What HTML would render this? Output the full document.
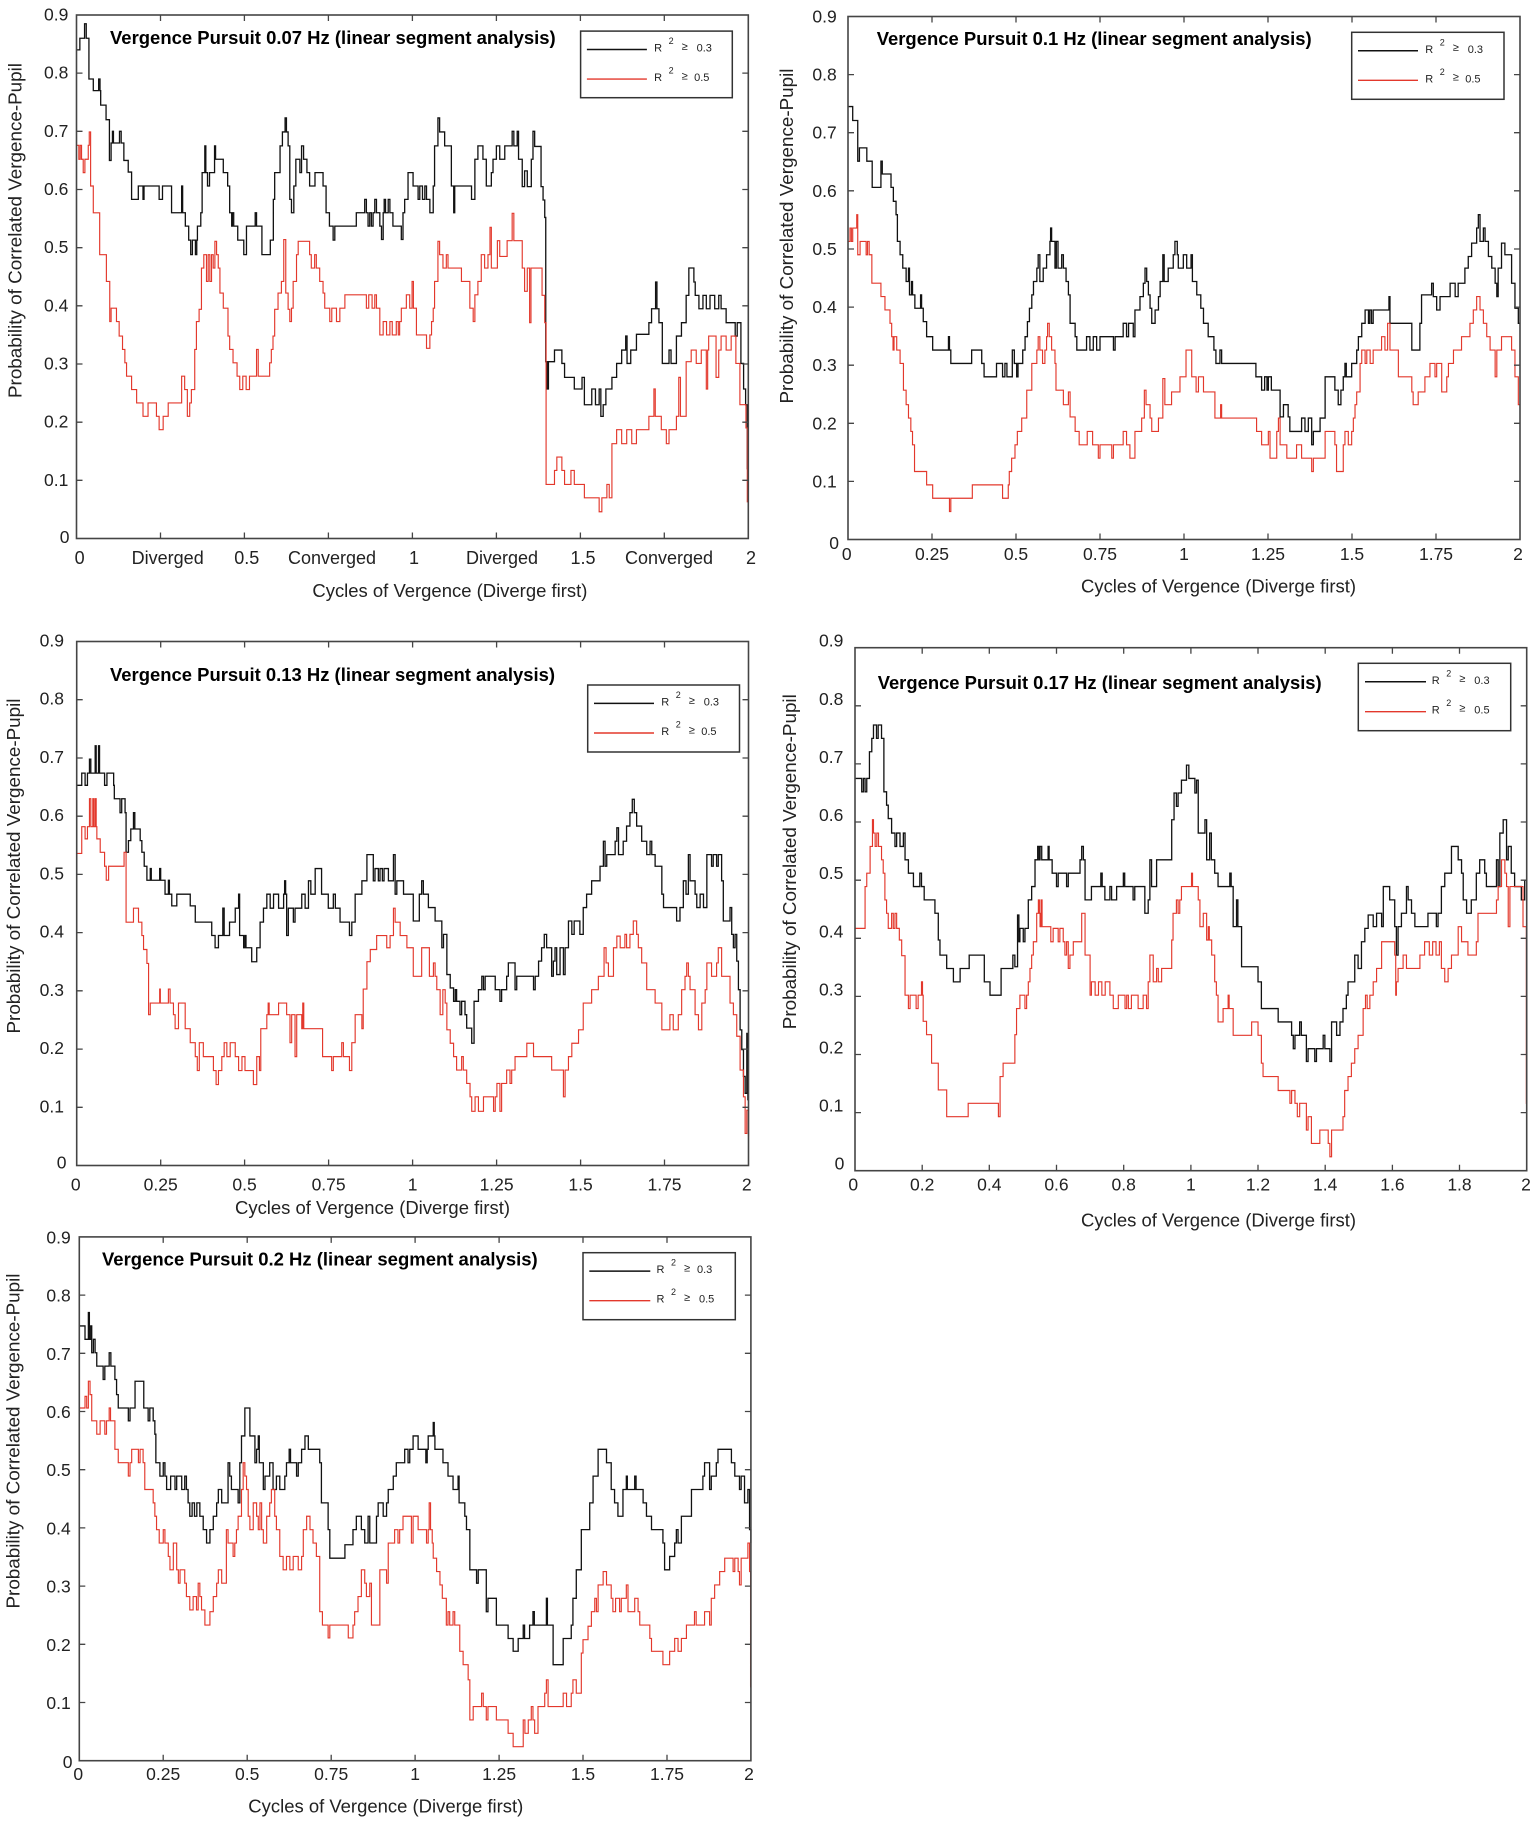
<!DOCTYPE html>
<html><head><meta charset="utf-8"><style>
html,body{margin:0;padding:0;background:#fff;}
svg{display:block;}
text{font-family:"Liberation Sans",Arial,sans-serif;}
.tl{font-size:17.5px;fill:#222;}
.te{text-anchor:end;}
.tm{text-anchor:middle;}
.tt{font-size:18.5px;font-weight:bold;fill:#000;}
.al{font-size:18.4px;fill:#222;}
.lg{font-size:11px;fill:#222;}
.ls{font-size:9px;fill:#222;}
.fr{fill:none;stroke:#454545;stroke-width:1.6;}
.tk{fill:none;stroke:#454545;stroke-width:1.3;}
.bk{fill:none;stroke:#111;stroke-width:1.3;vector-effect:non-scaling-stroke;stroke-linejoin:miter;}
.rd{fill:none;stroke:#e3382c;stroke-width:1.15;vector-effect:non-scaling-stroke;}
</style></head><body>
<svg width="1535" height="1822" viewBox="0 0 1535 1822" xmlns="http://www.w3.org/2000/svg">
<rect width="1535" height="1822" fill="#fff"/>

<!-- ============ PLOT 1 ============ -->
<g>
<g transform="translate(76.5,538.5) scale(3.359,-5.8167)">
<path class="bk" d="M0,84H1V86H2.4V88.5H2.9V86H3.7V79H5V77H6.6V79H7V77H7.2V74.5H8.8V72H9.8V65H10.3V68H10.7V70H11V68H12.8V70H13.3V68H14.1V65H15.4V63H16.4V58.3H18.4V60.6H19.8V58.3H20.1V60.6H24.6V58.3H25.6V60.6H28.3V56H31.3V60.6H31.6V56H32.4V53.7H33.4V51.3H34V48.8H34.5V51.3H35.4V48.8H35.8V51.3H36V53.7H37V56H37.4V62.9H38.2V67.5H38.5V62.9H39V60.6H39.6V62.9H41.1V67.5H41.4V65.2H43.7V62.9H45V60.6H45.6V56H46.2V53.7H46.4V56H46.8V53.7H48V51.3H49.8V48.8H50.6V53.7H53.2V56H53.6V53.7H55.2V48.8H57.7V51.3H58.6V58.3H59V62.9H60.6V67.5H61.3V69.9H62.1V72.3H62.5V69.9H63V67.5H63.5V58.3H64V56H64.7V60.6H65.3V65.2H66.5V62.9H67V67.5H67.6V65.2H68.6V62.9H69.4V60.6H71V62.9H73.4V60.6H74.3V56H75.3V53.7H76.4V51.3H76.9V53.7H83.3V56H85.8V58.3H86.3V56H86.8V53.7H87.3V56H87.8V53.7H88.3V56H88.8V58.3H89.3V56H90.3V53.7H90.8V51.4H91.3V56H91.6V58.3H92V56H92.8V58.3H93.3V56H94.2V53.7H96.7V51.4H97.2V56H97.7V58.3H98.7V62.9H100.2V60.6H101.7V58.3H102.2V60.6H103V58.3H103.7V60.6H104.2V58.3H105.2V56H106.2V60.6H106.6V67.5H107.6V72.3H108.1V69.9H109.6V67.5H111.6V60.6H112.3V56H112.6V60.6H117.6V58.3H118.6V65.2H119.5V67.5H121V65.2H122V60.6H123.5V62.9H124V65.2H125V67.5H126V65.2H127.5V67.5H129.7V70H130.2V67.5H131.2V70H131.6V65.2H132.7V60.5H133.4V63.2H134.2V60.5H135.4V65.2H135.9V70H136.4V67.4H138.3V60.5H138.9V58.2H139.4V55.2H139.7V30.4H140.1V25.7H140.5V30.4H142.3V32.4H144.5V30.1H145.3V27.7H148.2V25.7H150.5V27.7H151.2V23H153.4V25.7H154.5V23H155.6V25.7H156.1V21H156.8V23H157.6V25.7H159.4V27.7H160.8V30.1H162.3V32.4H163.5V34.8H163.9V30.1H165V32.4H166.7V35.1H170.4V37.1H171.2V39.5H172.4V44.1H172.8V39.5H173.4V37.1H174.4V30.1H176.4V32.4H177V30.1H178.6V34.8H180.1V37.1H181.5V41.8H182.3V46.5H183.8V44.1H184.2V41.8H185.3V39.5H186.5V41.8H187.5V39.5H188.6V41.8H190V39.5H191.2V41.8H191.9V39.5H193.4V37.1H196.1V34.8H196.7V37.1H197.8V30.1H198.6V25.7H199.2V23H199.7V12H200V10"/>
<path class="rd" d="M0,67.6H0.7V65.2H1.1V67.6H1.5V65.2H2V62.9H2.5V65.2H3.5V67.6H3.8V69.9H4.2V60.6H5V56H6.9V48.8H8.9V44.2H9.9V37.3H10.3V39.6H11.9V37.3H12.7V34.8H13.7V32.5H14.4V30.2H14.9V27.9H16.4V25.6H17.9V23.3H19.8V21H21.3V23.3H23.8V21H24.6V18.7H25.8V21H27.3V23.3H31.3V27.9H32.2V25.6H33V21H33.7V23.3H34.2V25.6H35.2V32.5H35.7V37.3H36.5V39.4H37.2V46.5H37.9V48.8H38.7V44.2H39.2V48.8H39.7V44.2H40.2V48.8H40.7V46.5H41.2V51.1H41.7V48.8H42.2V46.5H42.7V42.2H43.7V39.6H45.1V34.8H45.6V32.5H46.6V30.2H47.8V27.9H48.6V25.6H49.5V27.9H50.5V25.6H51.5V27.9H53.6V32.5H54.1V27.9H57.5V30.2H58V32.5H58.5V34.8H59V39.4H60V42.2H61V44.2H61.7V51.4H62.3V42.2H63V39.4H63.5V37.3H64V39.6H64.5V44.2H65.5V48.8H66V51.1H69.4V48.8H69.9V46.5H70.9V48.8H71.4V46.5H72.4V44.2H73.4V42.2H73.9V39.6H75.4V37.3H76V39.6H77.4V37.3H78.4V39.6H79.9V41.9H86.3V39.6H87V41.9H88V39.6H88.8V41.9H89.3V39.6H90.3V35H91.3V37.3H92.3V35H93.3V37.3H94V35H95.2V37.3H95.8V35H96.2V37.3H96.7V39.6H98.2V41.9H99.2V39.6H99.9V44.2H100.3V39.6H101.2V35H104.2V32.7H105.2V35H105.7V37.3H106.2V39.6H106.6V44.2H107.6V51.1H108.1V48.8H109.1V46.5H110.1V48.8H110.6V46.5H114.6V44.2H117.1V39.6H118.1V37.3H118.6V41.9H119.5V44.2H120.5V48.8H121.5V46.5H122.5V48.8H123.1V53.5H123.5V46.5H125.3V51.2H126V48.5H128.2V51.2H129.7V55.9H130.2V51.2H132.7V46.5H133.4V42.5H134.2V46.5H134.9V37.1H135.3V46.5H138.6V41.8H139.4V37.1H139.8V9.3H142.3V11.7H143V14H144.5V11.7H145.3V9.3H147.2V11.7H148.2V9.3H151.2V7H155.6V4.6H156.4V7H157.9V9.3H158.6V7H159.4V16.3H160.8V18.7H162.3V16.3H163.8V18.7H165.3V16.3H166.7V18.7H170.4V21H171.9V25.7H172.3V21H174.1V18.7H175.6V16.3H176.4V18.7H178.6V21H179.3V27.7H179.8V21H181.5V30.4H183V32.4H184.5V30.1H186V32.4H187.5V25.7H187.9V32.4H188.2V34.8H190.4V27.7H191.2V32.4H191.9V34.8H193.4V32.4H194.9V34.8H196.3V30.1H197.5V23H199.3V19H199.7V6.3H200"/>
</g>
<rect class="fr" x="76.5" y="15" width="671.8" height="523.5"/>
<path class="tk" d="M160.5,538.5v-6M244.4,538.5v-6M328.4,538.5v-6M412.4,538.5v-6M496.4,538.5v-6M580.4,538.5v-6M664.3,538.5v-6M160.5,15v6M244.4,15v6M328.4,15v6M412.4,15v6M496.4,15v6M580.4,15v6M664.3,15v6M76.5,480.3h6M76.5,422.2h6M76.5,364h6M76.5,305.8h6M76.5,247.7h6M76.5,189.5h6M76.5,131.3h6M76.5,73.1h6M748.3,480.3h-6M748.3,422.2h-6M748.3,364h-6M748.3,305.8h-6M748.3,247.7h-6M748.3,189.5h-6M748.3,131.3h-6M748.3,73.1h-6"/>
<g class="tl te">
<text x="68.3" y="20.5">0.9</text><text x="68.3" y="78.6">0.8</text><text x="68.3" y="136.8">0.7</text><text x="68.3" y="195">0.6</text><text x="68.3" y="253.2">0.5</text><text x="68.3" y="311.3">0.4</text><text x="68.3" y="369.5">0.3</text><text x="68.3" y="427.7">0.2</text><text x="68.3" y="485.8">0.1</text><text x="69.5" y="543">0</text>
</g>
<g class="tl tm" style="font-size:18px">
<text x="79.6" y="564">0</text><text x="167.7" y="564">Diverged</text><text x="246.8" y="564">0.5</text><text x="332" y="564">Converged</text><text x="414" y="564">1</text><text x="502" y="564">Diverged</text><text x="583" y="564">1.5</text><text x="669" y="564">Converged</text><text x="751" y="564">2</text>
</g>
<text class="tt" x="110" y="44" textLength="445.7" lengthAdjust="spacingAndGlyphs">Vergence Pursuit 0.07 Hz (linear segment analysis)</text>
<text class="al" x="312.4" y="597" textLength="275" lengthAdjust="spacingAndGlyphs">Cycles of Vergence (Diverge first)</text>
<text class="al tm" transform="translate(21.5,230.5) rotate(-90)" style="font-size:18.5px" textLength="335" lengthAdjust="spacingAndGlyphs">Probability of Correlated Vergence-Pupil</text>
<g transform="translate(580.6,31.1)">
<rect x="0" y="0" width="151.7" height="66.6" fill="#fff" stroke="#333" stroke-width="1.5"/>
<line x1="6.3" y1="18.4" x2="66.3" y2="18.4" stroke="#111" stroke-width="1.5"/>
<line x1="6.3" y1="48" x2="66.3" y2="48" stroke="#e3382c" stroke-width="1.4"/>
<text class="lg" x="73.5" y="20.5">R</text><text class="ls" x="88" y="13">2</text><text class="lg" x="101" y="18.8">≥</text><text class="lg" x="116" y="20.5">0.3</text>
<text class="lg" x="73.5" y="50">R</text><text class="ls" x="88" y="42.5">2</text><text class="lg" x="101" y="48.3">≥</text><text class="lg" x="113.5" y="50">0.5</text>
</g>
</g>

<!-- ============ PLOT 2 ============ -->
<g>
<g transform="translate(848,539.5) scale(3.36,-5.811)">
<path class="bk" d="M0,74.5H1.4V72.1H2.9V65.1H3.4V67.4H5.6V65.1H7.2V60.6H9.8V65.1H10.2V62.9H12.8V60.6H13.5V58.2H14.3V55.9H14.7V51.3H15.5V49H16.3V46.7H17.3V44.4H18V46.7H18.3V42.1H18.9V44.4H19.2V42.1H19.9V39.8H21.6V42.1H21.9V39.8H22.4V37.5H23.4V34.9H25.2V32.6H29.9V34.9H30.2V32.6H30.6V30.3H36.8V32.6H39.8V30.3H40.5V28H44.2V30.3H46V28H46.7V30.3H47.3V28H48.9V32.6H49.5V30.3H50.2V28H50.6V30.3H52V32.6H52.7V34.9H53.4V37.5H54V39.8H54.7V42.1H55.2V44.4H56.2V46.7H56.6V49H57.1V44.4H58.1V46.7H59.1V49H60.1V51.3H60.3V53.6H60.6V51.3H61.6V46.7H62V51.3H62.5V46.7H63.6V49H64.1V46.7H64.9V44.4H65.6V42.1H66.1V37.2H67.6V34.9H68.1V32.6H71V34.9H72V32.6H73V34.9H74V32.6H75V34.9H79V32.6H79.5V34.9H81.9V37.2H82.9V34.9H83.5V37.2H84.9V34.9H85.4V39.5H86.9V41.8H87.9V44.1H88.4V46.7H88.9V44.4H89.4V42.1H89.9V39.8H90.4V37.2H91.4V39.5H92.4V41.8H92.9V44.4H93.7V49H94.1V44.4H95.3V46.7H96.8V49H97.3V51.3H98V49H98.3V46.7H99.8V49H100.8V46.7H102.1V49H102.5V44.4H103.8V42.1H105V39.8H105.8V37.2H107.2V34.9H108.9V32.6H109.5V30.3H110.7V32.6H111.2V30.3H121.4V28H123.1V25.7H124V28H124.7V25.7H125.1V28H126V25.7H128.6V21.1H129.6V23.2H131V21.1H131.5V18.6H135V20.9H136V18.6H137V20.9H138V16.3H138.5V18.6H140.5V20.9H142V28H144.9V25.7H145.9V23.2H146.7V25.7H147.4V28H147.9V30.3H148.3V28H149.9V30.3H151.4V32.6H151.9V34.9H152.9V37.2H153.9V39.5H154.9V37.2H155.3V39.5H155.8V37.2H156.3V39.5H161V41.8H161.3V37.2H166.8V37.2H167.8V32.6H170.2V37.2H170.7V42.1H173.7V44.1H174.2V41.8H175.2V39.5H176.2V41.8H179.2V44.1H180.7V41.8H181.6V44.1H183.6V46.7H184.6V48.7H185.6V51H187.1V53.6H187.6V55.9H188.1V51.3H189.1V53.6H189.6V51.3H190.6V48.7H191.6V46.7H192.6V44.1H193.1V41.8H193.5V46.7H194.5V51H195.5V49H197.5V44.1H198.5V39.8H199.5V37.2H200"/>
<path class="rd" d="M0,51.3H0.6V53.6H1V51.3H1.4V53.6H2.6V55.9H2.9V49H3.6V51.3H5.4V49H5.8V51.3H6.3V49H7.1V44.1H9.8V41.8H11V39.5H12.5V37.2H13V34.9H13.4V32.6H13.7V34.9H14.5V32.6H15.5V30.3H16.5V25.7H17.3V23.2H18V20.9H18.7V18.6H19.2V16.3H19.8V11.7H23.4V9.4H25.2V7.1H30.2V4.8H30.6V7.1H37V9.4H46V7.1H47.7V9.4H48V11.7H48.7V14H49.7V16.3H50.4V18.6H51.7V20.9H53.2V25.7H54.7V30.3H56.2V32.6H56.6V34.9H57.1V32.6H57.9V30.3H58.6V32.6H59.1V34.9H59.4V37.2H59.9V34.9H60.6V32.6H61.6V30.3H61.9V25.7H64.1V23.2H65.6V25.4H66.1V21.1H67.6V18.6H68.8V16.3H71.2V18.6H72.8V16.3H74.5V14H75V16.3H78.5V14H79V16.3H81.9V18.6H82.9V16.3H83.9V14H85.4V18.6H87.4V20.9H88.2V25.7H88.7V23.2H89.9V20.9H90.4V18.6H92.4V20.9H93.7V27.7H94.3V23.2H96.3V25.4H98.8V28H100.6V32.6H102.3V28H103.6V25.4H104.3V28H105.8V25.4H109.2V20.9H110.9V23.2H111.2V20.9H121.6V18.6H123.1V16.3H125.1V18.6H125.6V14H127.6V18.6H128.1V20.9H128.6V16.3H130.6V14H133.5V16.3H135V14H138V11.7H138.5V14H142V18.6H144.9V16.3H145.4V11.7H147.4V16.3H147.9V18.6H148.9V16.3H149.9V18.6H150.4V20.9H150.9V23.2H151.4V25.4H152.4V30.3H152.9V32.6H153.9V30.3H154.4V32.6H155.4V30.3H156.3V32.6H158.8V34.9H159.8V32.6H160.6V37.2H161.3V32.6H163.8V28H167.8V25.4H168.2V23.2H169.7V25.4H171.7V28H173.2V30.3H174.7V28H175.2V30.3H176.7V25.4H178.2V28H178.7V30.3H180.2V32.6H182.6V34.9H185.1V37.2H186.1V39.5H187.1V41.8H188.1V39.5H189.1V37.2H190.1V34.9H191.1V32.6H192.6V28H193.1V32.6H194.5V34.9H197.5V32.6H198.5V28H199.5V23.2H200"/>
</g>
<rect class="fr" x="848" y="16.5" width="672" height="523"/>
<path class="tk" d="M932,539.5v-6M1016,539.5v-6M1100,539.5v-6M1184,539.5v-6M1268,539.5v-6M1352,539.5v-6M1436,539.5v-6M932,16.5v6M1016,16.5v6M1100,16.5v6M1184,16.5v6M1268,16.5v6M1352,16.5v6M1436,16.5v6M848,481.4h6M848,423.3h6M848,365.2h6M848,307.1h6M848,249h6M848,190.8h6M848,132.7h6M848,74.6h6M1520,481.4h-6M1520,423.3h-6M1520,365.2h-6M1520,307.1h-6M1520,249h-6M1520,190.8h-6M1520,132.7h-6M1520,74.6h-6"/>
<g class="tl te">
<text x="836.7" y="22.5">0.9</text><text x="836.7" y="80.6">0.8</text><text x="836.7" y="138.7">0.7</text><text x="836.7" y="196.8">0.6</text><text x="836.7" y="255">0.5</text><text x="836.7" y="313.1">0.4</text><text x="836.7" y="371.2">0.3</text><text x="836.7" y="429.3">0.2</text><text x="836.7" y="487.4">0.1</text><text x="839" y="549">0</text>
</g>
<g class="tl tm">
<text x="846.7" y="560">0</text><text x="932" y="560">0.25</text><text x="1016" y="560">0.5</text><text x="1100" y="560">0.75</text><text x="1184" y="560">1</text><text x="1268" y="560">1.25</text><text x="1352" y="560">1.5</text><text x="1436" y="560">1.75</text><text x="1518" y="560">2</text>
</g>
<text class="tt" x="876.7" y="45" textLength="435" lengthAdjust="spacingAndGlyphs">Vergence Pursuit 0.1 Hz (linear segment analysis)</text>
<text class="al" x="1081" y="592.7" textLength="275" lengthAdjust="spacingAndGlyphs">Cycles of Vergence (Diverge first)</text>
<text class="al tm" transform="translate(793,236) rotate(-90)" style="font-size:18.5px" textLength="335" lengthAdjust="spacingAndGlyphs">Probability of Correlated Vergence-Pupil</text>
<g transform="translate(1351.7,32.3)">
<rect x="0" y="0" width="152.3" height="67" fill="#fff" stroke="#333" stroke-width="1.5"/>
<line x1="6.3" y1="18.4" x2="66.3" y2="18.4" stroke="#111" stroke-width="1.5"/>
<line x1="6.3" y1="48" x2="66.3" y2="48" stroke="#e3382c" stroke-width="1.4"/>
<text class="lg" x="73.5" y="20.5">R</text><text class="ls" x="88" y="13">2</text><text class="lg" x="101" y="18.8">≥</text><text class="lg" x="116" y="20.5">0.3</text>
<text class="lg" x="73.5" y="50">R</text><text class="ls" x="88" y="42.5">2</text><text class="lg" x="101" y="48.3">≥</text><text class="lg" x="113.5" y="50">0.5</text>
</g>
</g>

<!-- ============ PLOT 3 ============ -->
<g>
<g transform="translate(76.7,1165.5) scale(3.359,-5.822)">
<path class="bk" d="M0,65.3H1.5V67.4H2.5V65.3H3.2V67.4H3.8V69.8H4.2V67.4H5.5V72.1H5.8V67.4H6.5V72.1H6.8V67.4H8.3V65.3H9V67.4H11V65.3H11.2V63H12.9V60.6H13.4V63H14.4V60.6H14.7V53.8H15.4V55.8H16.1V57.8H16.9V60.6H17.3V57.8H18.9V55.8H19.4V53.8H20.1V51.4H20.9V49H21.9V51H22.2V49H24.7V51H25V49H26.3V46.6H27.3V49H27.6V46.6H28.3V44.6H29.8V46.6H33.8V44.6H35.3V41.8H40.2V39.5H41.2V37.4H42.2V39.5H43.5V44.2H43.9V39.5H45.5V41.8H47.2V44.2H48.2V46.6H48.5V39.5H49.7V37.4H50.1V39.5H50.4V37.4H52.1V35H53.6V37.4H54.6V41.8H55.6V44.2H56.6V46.6H57.6V44.2H58.6V46.6H60.1V44.2H61.6V46.6H61.9V48.9H62.2V46.6H62.5V39.5H63V44.2H64.5V41.8H65V44.2H67V46.6H68V44.2H69V48.9H69.7V46.6H71V51H72.9V46.6H74.9V44.2H76.4V46.6H77V44.2H78.4V41.8H81.2V39.5H81.9V41.8H82.9V46.6H84.9V48.9H86.4V53.4H88.3V48.9H88.8V51H89.8V48.9H90.3V51H91V48.9H91.5V51H92.8V48.9H94.3V53.4H94.8V46.6H95.3V48.9H97.3V46.6H100.2V42H102V46.6H102.7V48.9H103.2V46.6H104.7V44.3H106.7V42H108.7V37.4H109.2V39.7H110.2V32.8H111.2V30.5H112.2V28.2H112.7V30.2H113.1V28.2H114.1V25.9H114.6V28.2H115.6V25.9H116.1V23.6H117.6V21H118.3V28.2H119.6V30.2H120.6V32.5H121.1V30.2H121.6V32.5H124.6V30.2H126V28.2H126.5V30.2H128V32.5H128.5V34.8H130.5V30.2H131V32.5H136V30.2H136.5V32.5H137.5V35.1H138.4V37.4H139.2V39.7H139.9V37.4H141.4V32.5H141.9V35.1H142.4V37.4H142.9V32.8H143.9V37.4H144.9V32.8H145.4V37.4H146.4V42H147.4V39.7H148.1V42H149.8V39.7H150.8V44.3H151.8V46.6H153.3V48.9H155.8V51.4H156.8V55.7H157.3V51.4H157.8V53.4H160.3V55.7H160.8V58H161.3V53.4H162.7V55.7H163.7V58.3H164.7V60.6H165.4V62.9H166V60.6H166.7V58.3H168.2V55.7H169.7V53.4H170.7V55.7H171.2V53.4H172.2V51.4H174.2V46.6H174.7V44.3H178.6V42H179.6V44.3H180.6V48.9H181.4V46.6H182.1V53.4H182.6V48.9H184.1V46.6H184.6V44.3H185.6V46.6H186.6V44.3H187.6V53.4H189V51.4H189.5V53.4H190.5V51.4H191V53.4H192V48.9H192.5V42H194.5V44.3H195V39.7H195.5V37.4H196V39.7H196.5V35.1H197V30.2H197.5V23.3H198V19.9H198.5V15.3H199V12.4H199.5V22.7H199.8V11.3H200"/>
<path class="rd" d="M0,53.6H1.5V58.2H2.5V56.1H3.2V58.2H3.8V63H4.2V58.2H4.8V63H5.1V58.2H5.5V63H5.8V58.2H6V56.1H7V53.8H8.3V51.4H8.8V49H9.5V51.4H14.1V53.8H14.7V41.8H16.9V44.2H18.4V41.8H19.4V39.5H19.9V37.1H20.9V34.7H21.4V25.9H21.9V27.9H24.7V30.3H24.9V27.9H27.3V30.3H27.8V27.9H28.8V25.9H29.3V23.5H30.3V27.9H32.3V23.5H33.8V21.1H35.3V18.7H35.9V16.3H36.5V21.1H37.7V18.7H40.7V16.3H41.5V13.9H42.2V16.3H43.2V18.7H43.9V21.1H44.7V18.7H45.7V21.1H47.2V18.7H48.2V16.3H49.2V18.7H50.1V16.3H52.6V13.9H53.6V18.7H54.4V16.3H54.8V23.5H56.6V25.9H57V27.9H57.3V25.9H60.1V27.9H62.5V25.9H63.5V21.1H64V25.9H65V18.7H65.5V25.9H67V23.5H67.3V27.9H67.6V23.5H72.9V23.5H73.2V18.7H75.9V16.3H76.4V18.7H78.9V21.1H79.4V18.7H81.2V16.3H81.9V21.1H82.9V25.9H84.9V23.5H85.3V30.3H86.4V35H87.4V37.1H89.3V39.5H92.3V37.4H93.3V39.5H94.3V44.2H94.8V41.8H96.3V39.5H98.3V37.4H100.2V32.5H102.7V37.4H105V32.5H106.2V34.8H106.7V32.5H107.2V30.2H108.2V25.9H109V30.2H109.7V27.9H110.2V23.3H111.2V21H112.2V18.7H113.1V16.4H114.6V18.7H115.1V16.4H116.1V14.1H117.1V11.8H117.6V9.3H118.6V11.8H119.6V9.3H121.1V11.8H124.1V9.3H124.6V11.8H125.1V14.1H126V9.3H126.5V14.1H128V16.4H129V14.1H129.5V16.4H130.5V18.7H134V21H136V18.7H141.4V16.4H144.9V11.8H145.4V16.4H146.4V18.7H147.4V21H149.4V23.3H150.8V27.9H153.3V30.2H155.3V32.5H157V37.4H157.6V34.8H158.3V32.5H159.8V37.4H160.8V39.4H161.8V37.4H163.2V39.7H163.7V37.4H164.7V39.7H165.7V42H166.7V39.7H167.2V37.4H168.2V34.8H169.7V30.2H172.2V27.9H174.2V23.3H176.6V25.9H177.6V23.3H179.1V25.9H180.1V30.2H181.1V32.5H181.6V34.8H182.1V32.5H182.6V30.2H184.1V25.9H185.1V23.3H186.1V27.9H187.1V30.2H187.6V34.8H189V32.5H190.5V34.8H191V37.4H192V32.5H194.5V27.9H195.5V25.9H196.5V22.2H197.5V16.4H198.5V11.8H199V5.5H199.5V9.5H200V5"/>
</g>
<rect class="fr" x="76.7" y="641.5" width="671.8" height="524"/>
<path class="tk" d="M160.7,1165.5v-6M244.6,1165.5v-6M328.6,1165.5v-6M412.6,1165.5v-6M496.6,1165.5v-6M580.6,1165.5v-6M664.5,1165.5v-6M160.7,641.5v6M244.6,641.5v6M328.6,641.5v6M412.6,641.5v6M496.6,641.5v6M580.6,641.5v6M664.5,641.5v6M76.7,1107.3h6M76.7,1049.1h6M76.7,990.8h6M76.7,932.6h6M76.7,874.4h6M76.7,816.2h6M76.7,758h6M76.7,699.7h6M748.5,1107.3h-6M748.5,1049.1h-6M748.5,990.8h-6M748.5,932.6h-6M748.5,874.4h-6M748.5,816.2h-6M748.5,758h-6M748.5,699.7h-6"/>
<g class="tl te">
<text x="64" y="646.5">0.9</text><text x="64" y="704.7">0.8</text><text x="64" y="763">0.7</text><text x="64" y="821.2">0.6</text><text x="64" y="879.4">0.5</text><text x="64" y="937.6">0.4</text><text x="64" y="995.8">0.3</text><text x="64" y="1054.1">0.2</text><text x="64" y="1112.3">0.1</text><text x="66.5" y="1168.5">0</text>
</g>
<g class="tl tm">
<text x="75.7" y="1190.4">0</text><text x="160.7" y="1190.4">0.25</text><text x="244.6" y="1190.4">0.5</text><text x="328.6" y="1190.4">0.75</text><text x="412.6" y="1190.4">1</text><text x="496.6" y="1190.4">1.25</text><text x="580.6" y="1190.4">1.5</text><text x="664.5" y="1190.4">1.75</text><text x="746.7" y="1190.4">2</text>
</g>
<text class="tt" x="110" y="681" textLength="445" lengthAdjust="spacingAndGlyphs">Vergence Pursuit 0.13 Hz (linear segment analysis)</text>
<text class="al" x="235" y="1214" textLength="275" lengthAdjust="spacingAndGlyphs">Cycles of Vergence (Diverge first)</text>
<text class="al tm" transform="translate(20,866) rotate(-90)" style="font-size:18.5px" textLength="335" lengthAdjust="spacingAndGlyphs">Probability of Correlated Vergence-Pupil</text>
<g transform="translate(587.7,685)">
<rect x="0" y="0" width="151.8" height="67" fill="#fff" stroke="#333" stroke-width="1.5"/>
<line x1="6.3" y1="18.4" x2="66.3" y2="18.4" stroke="#111" stroke-width="1.5"/>
<line x1="6.3" y1="48" x2="66.3" y2="48" stroke="#e3382c" stroke-width="1.4"/>
<text class="lg" x="73.5" y="20.5">R</text><text class="ls" x="88" y="13">2</text><text class="lg" x="101" y="18.8">≥</text><text class="lg" x="116" y="20.5">0.3</text>
<text class="lg" x="73.5" y="50">R</text><text class="ls" x="88" y="42.5">2</text><text class="lg" x="101" y="48.3">≥</text><text class="lg" x="113.5" y="50">0.5</text>
</g>
</g>

<!-- ============ PLOT 4 ============ -->
<g>
<g transform="translate(855,1170.7) scale(3.3585,-5.811)">
<path class="bk" d="M0,67.5H2V65.2H2.5V67.5H3V65.2H3.5V67.5H4.3V72.1H5V74.4H5.5V76.7H6.4V74.4H6.9V76.7H7.9V74.4H8.6V65.2H9.4V62.9H9.9V60.6H10.9V58.1H11.9V55.8H12.4V58.1H13.4V55.8H14.4V58.1H14.9V53.5H15.9V51.2H17.4V48.9H19.3V51.2H19.8V48.9H20.6V46.6H23.8V44.3H24.8V39.7H25.3V37.1H27.3V34.8H29.3V32.5H31.3V34.8H34V37.1H38.5V32.5H40.2V30.2H43.5V34.8H47V37.1H47.6V35.1H48.4V44H48.8V39.4H49.1V41.7H50.1V39.4H50.6V41.7H51.6V46.6H52.6V48.9H53.6V53.5H54.4V55.8H54.8V53.5H55.1V55.8H55.6V53.5H57.5V55.8H57.8V53.5H58.7V51.2H60V48.9H60.5V51.2H63V48.9H63.5V51.2H67V53.5H67.5V55.8H68V53.5H68.5V46.6H70.4V48.9H73.2V51.2H73.6V48.9H74.4V46.6H75.9V48.9H76.4V46.6H77.9V48.9H79.9V51.2H80.3V48.9H82.8V46.6H83.3V48.9H86.3V44.3H87.3V46.6H87.8V53.5H88.3V48.9H89.8V53.5H94.3V60.4H95V65H95.7V62.7H96.2V65H97.2V67.2H98.7V69.8H99.4V67.5H101.2V65H101.7V67.2H102.2V58.1H104.2V60.4H104.7V53.5H105.6V58.1H106.1V53.5H107.1V51.2H108.1V48.9H111.6V51.2H112V48.9H112.6V42H113.6V46.6H114V42H115.1V35.1H120V32.5H121V27.9H126V25.6H130V23.3H130.5V21H131V23.3H132.4V25.6H132.9V23.3H134.4V18.8H134.9V21H136.9V18.8H137.4V21H139.4V23.3H139.9V21H141.4V18.8H141.9V25.6H143.4V23.3H144.4V25.6H145.3V27.9H146.3V30.2H146.8V32.5H148.8V37.1H149.8V34.8H150.8V39.4H151.8V41.7H152.8V44H154.3V42H155.3V44.3H156.8V42H157.3V48.9H159.2V46.6H160.7V42H161.2V37.1H161.7V42H162.7V44.3H164.2V48.9H164.7V46.6H165.7V44.3H166.7V42H170.6V44.3H173.1V42H173.6V44.3H174.6V48.9H175.6V51.2H177.6V55.8H179.6V53.5H180.6V51.2H181.1V46.6H182.1V44.3H183.5V46.6H185V51.2H186V53.5H187.5V51.2H188V48.9H191V53.5H191.5V48.9H192V58.1H193V60.4H194V53.5H194.5V55.8H195.4V51.2H196.4V48.9H198.4V46.6H199.4V50H200V45"/>
<path class="rd" d="M0,41.7H3V48.9H3.5V51.2H4.5V55.8H5.2V60.4H5.5V58.1H6V55.8H6.5V58.1H7V55.8H7.9V53.5H8.4V51.2H8.9V46.6H9.4V44.3H9.9V41.7H10.9V44.3H11.4V41.7H11.9V44.3H12.4V41.7H13.2V39.7H13.9V37H14.9V30.2H15.9V27.9H16.4V30.2H18.2V27.9H18.8V30.2H19.8V32.5H20.1V30.2H20.3V25.7H21.3V23.4H22.8V18.5H24.8V13.9H27.3V9.3H33.7V11.6H42.7V9.3H43.2V16.2H44.1V18.5H47.6V23.4H48.1V27.9H49.1V30.2H50.6V27.9H51.1V30.2H51.6V32.5H52.1V34.8H52.6V37.1H53.1V39.4H54.1V44.3H54.6V46.6H54.9V44.3H55.1V42H55.4V46.6H55.7V42H58.3V39.4H59V41.7H60.5V39.4H61V41.7H62V39.4H62.5V37.1H63V39.4H63.5V34.8H64V37.1H65V39.4H67.5V44.3H68.5V37.1H70V30.2H70.4V32.5H71.5V30.2H72.5V32.5H73.5V30.2H74.5V32.5H75.9V30.2H76.9V27.9H78.4V30.2H80.4V27.9H80.9V30.2H81.4V27.9H82.3V30.2H84.3V27.9H85.8V30.2H86.8V27.9H87.3V32.5H87.8V37.1H88.8V32.5H89.8V34.8H90.3V32.5H91.3V34.8H94.3V39.7H94.7V44.3H95.7V46.6H96.2V44.3H96.7V46.6H97.2V48.9H100.2V51.2H100.5V48.9H102.2V46.6H102.7V42H103.7V44.3H104.7V39.7H105.2V42H105.5V39.7H106.2V37.1H107.1V32.5H107.6V30.2H108.1V25.6H109.6V27.9H111.1V30.2H111.4V27.9H112.6V23.3H118.1V25.6H120V23.3H121V18.5H121.5V16.2H126V13.8H129.5V11.6H130V13.8H131V11.6H131.7V9.3H132.4V11.6H134.4V7H134.9V9.3H135.9V4.7H138.4V7H140.9V4.7H141.4V2.4H141.9V7H145.3V9.3H145.8V13.8H146.8V16.2H147.8V18.5H148.8V21H149.8V23.3H151.3V27.9H152V30.2H152.5V27.9H153.3V30.2H154.3V32.5H155.3V34.8H156.8V39.4H160.7V37.1H161V30.2H161.2V32.5H161.7V34.8H163.2V37.1H164.2V34.8H168.2V37.1H169.6V39.4H171V37.1H172V39.4H173V37.1H174V39.4H174.6V34.8H175.6V32.5H176.6V34.8H177.6V37.1H179.6V42H180.6V39.4H182.5V37.1H185V39.4H185.5V44.3H191V46.6H191.5V48.9H192.5V53.5H193.5V51.2H194V48.9H194.5V42H195V48.9H198.4V48.9H198.9V42H199.9V11.6H200"/>
</g>
<rect class="fr" x="855" y="647.7" width="671.7" height="523"/>
<path class="tk" d="M922.2,1170.7v-6M989.3,1170.7v-6M1056.5,1170.7v-6M1123.7,1170.7v-6M1190.9,1170.7v-6M1258,1170.7v-6M1325.2,1170.7v-6M1392.4,1170.7v-6M1459.5,1170.7v-6M922.2,647.7v6M989.3,647.7v6M1056.5,647.7v6M1123.7,647.7v6M1190.9,647.7v6M1258,647.7v6M1325.2,647.7v6M1392.4,647.7v6M1459.5,647.7v6M855,1112.6h6M855,1054.5h6M855,996.4h6M855,938.3h6M855,880.2h6M855,822h6M855,763.9h6M855,705.8h6M1526.7,1112.6h-6M1526.7,1054.5h-6M1526.7,996.4h-6M1526.7,938.3h-6M1526.7,880.2h-6M1526.7,822h-6M1526.7,763.9h-6M1526.7,705.8h-6"/>
<g class="tl te">
<text x="843.3" y="646.7">0.9</text><text x="843.3" y="704.8">0.8</text><text x="843.3" y="762.9">0.7</text><text x="843.3" y="821">0.6</text><text x="843.3" y="879.2">0.5</text><text x="843.3" y="937.3">0.4</text><text x="843.3" y="995.4">0.3</text><text x="843.3" y="1053.5">0.2</text><text x="843.3" y="1111.6">0.1</text><text x="844.3" y="1169.7">0</text>
</g>
<g class="tl tm">
<text x="853.3" y="1190.7">0</text><text x="922.2" y="1190.7">0.2</text><text x="989.3" y="1190.7">0.4</text><text x="1056.5" y="1190.7">0.6</text><text x="1123.7" y="1190.7">0.8</text><text x="1190.9" y="1190.7">1</text><text x="1258" y="1190.7">1.2</text><text x="1325.2" y="1190.7">1.4</text><text x="1392.4" y="1190.7">1.6</text><text x="1459.5" y="1190.7">1.8</text><text x="1526" y="1190.7">2</text>
</g>
<text class="tt" x="877.7" y="689" textLength="444" lengthAdjust="spacingAndGlyphs">Vergence Pursuit 0.17 Hz (linear segment analysis)</text>
<text class="al" x="1081" y="1226.7" textLength="275" lengthAdjust="spacingAndGlyphs">Cycles of Vergence (Diverge first)</text>
<text class="al tm" transform="translate(796,861.7) rotate(-90)" style="font-size:18.5px" textLength="335" lengthAdjust="spacingAndGlyphs">Probability of Correlated Vergence-Pupil</text>
<g transform="translate(1358.3,663.3)">
<rect x="0" y="0" width="152.4" height="67.4" fill="#fff" stroke="#333" stroke-width="1.5"/>
<line x1="6.7" y1="18.4" x2="67.7" y2="18.4" stroke="#111" stroke-width="1.5"/>
<line x1="6.7" y1="48.4" x2="67.7" y2="48.4" stroke="#e3382c" stroke-width="1.4"/>
<text class="lg" x="73.5" y="20.5">R</text><text class="ls" x="88" y="13">2</text><text class="lg" x="101" y="18.8">≥</text><text class="lg" x="116" y="20.5">0.3</text>
<text class="lg" x="73.5" y="50">R</text><text class="ls" x="88" y="42.5">2</text><text class="lg" x="101" y="48.3">≥</text><text class="lg" x="116" y="50">0.5</text>
</g>
</g>

<!-- ============ PLOT 5 ============ -->
<g>
<g transform="translate(79.3,1760.7) scale(3.358,-5.82)">
<path class="bk" d="M0,74.7H1.7V72.4H2.7V77H3V72.4H3.4V74.7H3.7V70.1H4.2V72.4H4.7V70.1H5.2V67.8H7.1V65.5H7.6V67.8H8.9V70.1H9.4V67.8H10.6V65.5H11.1V62.9H11.6V60.6H14.6V58.4H15.1V60.6H16.6V65.2H19.2V60.6H20.5V58.4H21V60.6H22V58.4H22.5V56.1H22.8V51.2H24V48.9H25V51.2H25.5V48.9H26V46.6H27.2V48.9H28.5V46.6H29V48.9H30.5V46.6H31.4V48.9H31.9V46.6H32.4V44.3H32.9V42H33.6V44.3H34.3V42H35V44.3H35.9V42H36.9V39.7H37.9V37.4H38.9V39.7H39.9V42H40.9V44.3H41.4V46.6H42.4V44.3H44.3V51.2H44.8V48.9H45.3V46.6H47.3V44.3H47.8V51.2H48.3V55.8H49.3V60.6H50.8V55.8H52.3V51.2H52.8V53.5H53.3V55.8H53.6V51.2H54.8V46.6H55.3V48.9H56.7V51.2H57.7V46.6H58.7V48.9H59.7V46.6H61.2V48.9H61.7V51.2H62.5V53.5H62.9V51.2H64.7V48.9H65.2V51.2H66.2V53.5H67.2V55.8H68.2V53.5H71.6V51.2H72.1V44.3H74.1V39.7H74.6V34.8H79.1V37.1H81.5V39.7H82.5V42H84V39.7H85V37.4H86V42H86.5V37.4H88.5V42H89V44.3H90.5V42H91.5V44.3H92V46.6H93.5V48.9H94.4V51.2H96.9V53.5H97.9V51.2H98.4V53.5H99.4V55.8H100.9V53.5H103.2V51.2H103.6V53.5H103.9V55.8H105.4V58.1H105.7V55.8H105.9V53.5H108.3V51.2H109.8V48.9H111.3V46.6H112.8V48.9H113.1V44.3H114.8V42H115.3V39.7H116.3V32.8H118.3V30.5H118.8V32.8H121.2V25.6H121.7V27.9H124.2V23.3H127.7V21H129.2V18.8H130.7V21H132.2V23.3H132.6V21H134.1V23.3H135.1V25.6H135.5V23.3H139.1V27.9H139.4V23.3H141.1V16.5H144.1V21H146.5V23.3H147V27.9H148V32.8H149.5V39.7H152V44.3H153V48.9H154.5V53.5H157V51.2H158.4V46.6H159.4V44.3H160.4V42H161.9V46.6H162.9V48.9H163.2V46.6H165.4V48.9H165.8V46.6H167.9V44.3H168.9V42H170.4V39.7H173.8V37.4H174.3V32.8H175.8V35.1H177.3V37.4H177.8V39.7H178.3V37.4H179.3V42H182.3V46.6H185.7V48.9H186.2V51.2H187.7V46.6H188.2V48.9H189.7V51.2H190.2V53.5H194.2V51.2H195.2V48.9H196.6V46.6H197.1V48.9H198.1V44.3H199.1V46.6H199.6V39.7H200V37.4"/>
<path class="rd" d="M0,60.6H1.7V62.6H2.2V60.6H2.7V65.2H3.2V62.9H3.7V58.4H5.2V56.1H6.2V58.4H7.6V56.1H8.1V58.4H8.9V60.6H9.3V58.4H10.6V53.5H11.6V51.2H14.6V48.9H15.1V51.2H15.6V53.5H17.6V51.2H18.1V53.5H19V51.2H19.5V46.6H22V44.3H22.5V42H23V39.7H23.8V37.4H25V39.7H25.5V37.4H26.5V35.1H27V32.8H28V37.4H29V32.8H29.5V30.5H30V32.8H31.4V30.5H31.9V28.2H32.9V25.9H33.9V28.2H34.9V25.9H35.4V30.5H35.9V28.2H36.4V25.9H37.4V23.3H38.9V25.6H39.9V28.2H40.9V30.5H41.4V32.8H42.4V30.5H43.8V39.7H44.3V37.4H45.8V35.1H46.3V37.4H46.8V39.7H47.3V42H48.3V46.6H48.8V51.2H49.3V48.9H49.8V46.6H50.3V42H50.8V39.7H51.8V44.3H52.8V42H53.3V39.7H53.8V44.3H54.3V39.7H54.8V37.4H55.8V42H56.7V44.3H57.2V46.6H58.2V42H58.7V39.7H59.7V35.1H60.7V32.8H61.7V35.1H62.7V32.8H63.7V35.1H65.2V32.8H66.2V35.1H66.7V39.7H67.7V42H68.7V39.7H69.6V37.4H70.6V35.1H71.6V25.6H72.4V23.3H74.1V21.1H74.6V23.3H79.6V23.3H80.1V21.1H81.5V23.3H82V25.6H83V28.2H84V32.8H85V30.5H85.5V28.2H86.5V30.5H87V23.3H89.5V32.8H91.5V30.5H92V37.4H93.9V39.7H94.9V37.4H95.4V39.7H96.4V42H98.9V37.4H99.4V42H100.9V39.7H103.4V37.4H103.9V39.7H104.2V44.3H104.6V39.7H105.1V37.4H105.4V34.8H106.4V32.5H107.4V30.2H108.1V27.9H109.3V23.3H109.8V25.6H110.3V23.3H111.3V25.6H111.8V23.3H113.3V18.8H114.3V16.5H115.8V13.9H116.3V7H117.3V9.3H119.8V11.6H120.3V9.3H121.2V7H121.7V9.3H124.2V7H127.7V4.7H129.2V2.4H132.2V7H132.7V4.7H133.7V7H134.6V9.3H135.1V7H135.6V4.7H136.6V9.3H138.6V11.6H139.1V13.9H139.6V9.3H144.1V11.6H145.1V9.3H146.5V11.6H147V13.9H148V11.6H149.5V18.5H150V20.8H151.5V23.1H152.5V25.6H153.5V27.9H154V25.6H154.5V30.2H156V32.5H157V30.2H158.4V27.9H158.9V25.6H159.7V27.9H160.9V25.6H161.4V27.9H162.9V30.2H163.4V25.6H165.4V27.9H166.4V25.6H166.9V23.3H169.9V21H170.4V18.8H173.8V16.5H175.8V18.8H177.3V21H178.3V18.8H179.3V21H180.8V23.3H183.2V25.6H183.7V23.3H186.2V25.6H187.7V23.3H188.2V27.9H189.2V30.2H190.7V32.5H192.2V34.8H194.7V32.5H195.2V34.8H196.2V32.5H196.6V30.2H197.1V34.8H199.1V37.4H199.6V32.5H199.9V12.7H200"/>
</g>
<rect class="fr" x="79.3" y="1236.9" width="671.6" height="523.8"/>
<path class="tk" d="M163.2,1760.7v-6M247.2,1760.7v-6M331.2,1760.7v-6M415.1,1760.7v-6M499.1,1760.7v-6M583,1760.7v-6M667,1760.7v-6M163.2,1236.9v6M247.2,1236.9v6M331.2,1236.9v6M415.1,1236.9v6M499.1,1236.9v6M583,1236.9v6M667,1236.9v6M79.3,1702.5h6M79.3,1644.3h6M79.3,1586.1h6M79.3,1527.9h6M79.3,1469.7h6M79.3,1411.5h6M79.3,1353.3h6M79.3,1295.1h6M750.9,1702.5h-6M750.9,1644.3h-6M750.9,1586.1h-6M750.9,1527.9h-6M750.9,1469.7h-6M750.9,1411.5h-6M750.9,1353.3h-6M750.9,1295.1h-6"/>
<g class="tl te">
<text x="70.7" y="1243.4">0.9</text><text x="70.7" y="1301.6">0.8</text><text x="70.7" y="1359.8">0.7</text><text x="70.7" y="1418">0.6</text><text x="70.7" y="1476.2">0.5</text><text x="70.7" y="1534.4">0.4</text><text x="70.7" y="1592.6">0.3</text><text x="70.7" y="1650.8">0.2</text><text x="70.7" y="1709">0.1</text><text x="72.5" y="1768">0</text>
</g>
<g class="tl tm">
<text x="78.3" y="1780">0</text><text x="163.2" y="1780">0.25</text><text x="247.2" y="1780">0.5</text><text x="331.2" y="1780">0.75</text><text x="415.1" y="1780">1</text><text x="499.1" y="1780">1.25</text><text x="583" y="1780">1.5</text><text x="667" y="1780">1.75</text><text x="749" y="1780">2</text>
</g>
<text class="tt" x="102" y="1265.7" textLength="435.7" lengthAdjust="spacingAndGlyphs">Vergence Pursuit 0.2 Hz (linear segment analysis)</text>
<text class="al" x="248.3" y="1812.7" textLength="275" lengthAdjust="spacingAndGlyphs">Cycles of Vergence (Diverge first)</text>
<text class="al tm" transform="translate(19.5,1441) rotate(-90)" style="font-size:18.5px" textLength="335" lengthAdjust="spacingAndGlyphs">Probability of Correlated Vergence-Pupil</text>
<g transform="translate(583,1252.7)">
<rect x="0" y="0" width="152.3" height="67" fill="#fff" stroke="#333" stroke-width="1.5"/>
<line x1="6.3" y1="18.4" x2="67.3" y2="18.4" stroke="#111" stroke-width="1.5"/>
<line x1="6.3" y1="48" x2="67.3" y2="48" stroke="#e3382c" stroke-width="1.4"/>
<text class="lg" x="73.5" y="20.5">R</text><text class="ls" x="88" y="13">2</text><text class="lg" x="101" y="18.8">≥</text><text class="lg" x="114" y="20.5">0.3</text>
<text class="lg" x="73.5" y="50">R</text><text class="ls" x="88" y="42.5">2</text><text class="lg" x="101" y="48.3">≥</text><text class="lg" x="116" y="50">0.5</text>
</g>
</g>
</svg>
</body></html>
